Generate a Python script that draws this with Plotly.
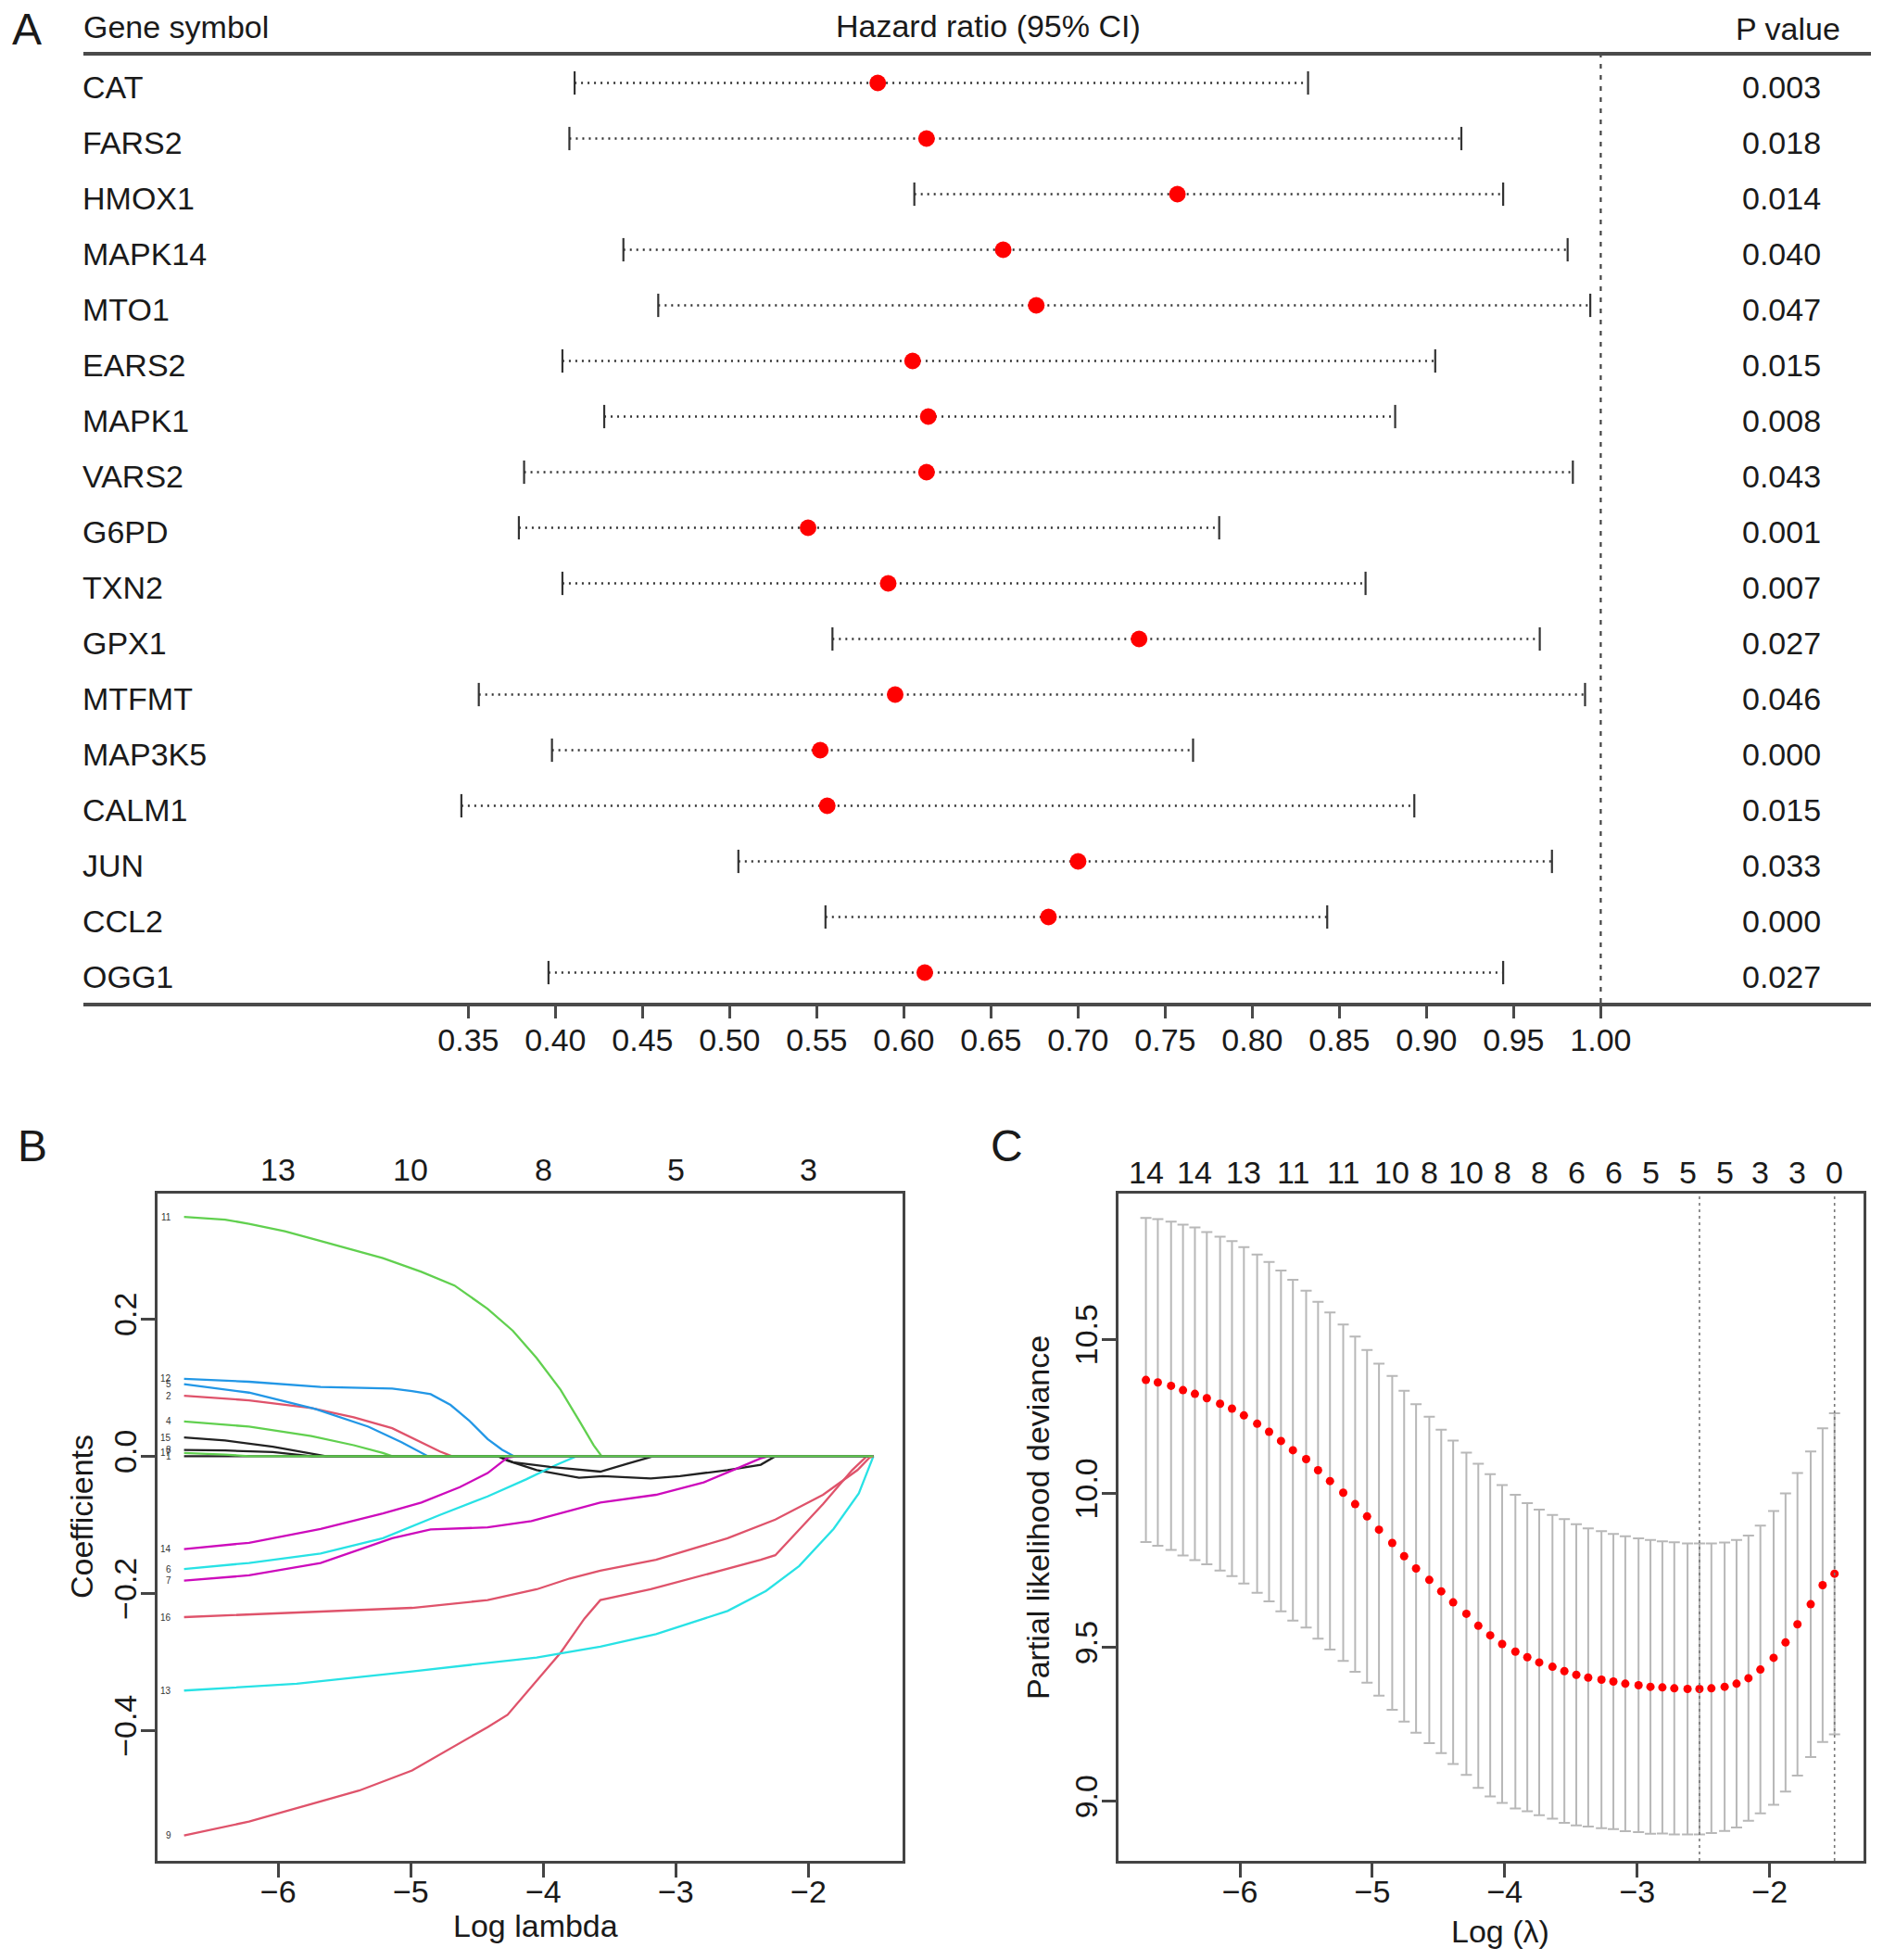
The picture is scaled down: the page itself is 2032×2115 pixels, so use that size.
import plotly.graph_objects as go

W, H = 2032, 2115
FONT = "Liberation Sans, Arial, Helvetica, sans-serif"
TXT = "#1a1a1a"
AX = "#444444"

# ---------------- Panel A: forest plot ----------------
genes = ["CAT", "FARS2", "HMOX1", "MAPK14", "MTO1", "EARS2", "MAPK1", "VARS2", "G6PD",
         "TXN2", "GPX1", "MTFMT", "MAP3K5", "CALM1", "JUN", "CCL2", "OGG1"]
hr = [0.585, 0.613, 0.757, 0.657, 0.676, 0.605, 0.614, 0.613, 0.545,
      0.591, 0.735, 0.595, 0.552, 0.556, 0.700, 0.683, 0.612]
ci_low = [0.411, 0.408, 0.606, 0.439, 0.459, 0.404, 0.428, 0.382, 0.379,
          0.404, 0.559, 0.356, 0.398, 0.346, 0.505, 0.555, 0.396]
ci_high = [0.832, 0.920, 0.944, 0.981, 0.994, 0.905, 0.882, 0.984, 0.781,
           0.865, 0.965, 0.991, 0.766, 0.893, 0.972, 0.843, 0.944]
p_values = ["0.003", "0.018", "0.014", "0.040", "0.047", "0.015", "0.008", "0.043", "0.001",
            "0.007", "0.027", "0.046", "0.000", "0.015", "0.033", "0.000", "0.027"]
hr_ticks = [0.35, 0.40, 0.45, 0.50, 0.55, 0.60, 0.65, 0.70, 0.75, 0.80, 0.85, 0.90, 0.95, 1.00]
hr_ref = 1.0

# ---------------- Panel B: lasso coefficient paths ----------------
b_x_v1 = [-6.71, -4.34, -4.27, -4.05, -3.73, -3.55, -3.19, -2.97, -2.61, -2.36, -2.25, -1.51]
b_y_v1 = [0, 0, -0.0065, -0.0201, -0.0314, -0.0291, -0.0323, -0.0291, -0.0201, -0.0124, 0, 0]
b_x_v2 = [-6.71, -6.22, -5.75, -5.43, -5.14, -4.92, -4.78, -4.69, -1.51]
b_y_v2 = [0.0883, 0.0816, 0.0703, 0.0567, 0.0409, 0.0206, 0.007, 0, 0]
b_x_v4 = [-6.71, -6.22, -5.75, -5.43, -5.21, -5.14, -1.51]
b_y_v4 = [0.0508, 0.0432, 0.0296, 0.0161, 0.0048, 0, 0]
b_x_v5 = [-6.71, -6.22, -5.72, -5.32, -5.07, -4.87, -1.51]
b_y_v5 = [0.105, 0.0928, 0.0689, 0.0432, 0.0206, 0, 0]
b_x_v6 = [-6.71, -6.22, -5.68, -5.21, -4.78, -4.42, -4.13, -3.91, -3.75, -1.51]
b_y_v6 = [-0.1646, -0.1556, -0.142, -0.1195, -0.0856, -0.0585, -0.0337, -0.0133, 0, 0]
b_x_v7 = [-6.71, -6.22, -5.68, -5.14, -4.85, -4.42, -4.09, -3.84, -3.57, -3.15, -2.79, -2.54, -2.36, -2.30, -1.51]
b_y_v7 = [-0.1814, -0.1737, -0.1556, -0.1195, -0.1068, -0.1037, -0.0946, -0.0811, -0.0675, -0.0562,
          -0.0382, -0.0178, -0.003, 0, 0]
b_x_v8 = [-6.71, -6.40, -6.04, -5.75, -4.34, -4.23, -3.95, -3.57, -3.37, -3.17, -1.51]
b_y_v8 = [0.0093, 0.0084, 0.006, 0, 0, -0.0088, -0.0156, -0.0224, -0.011, 0, 0]
b_x_v9 = [-6.71, -6.22, -5.68, -5.39, -4.99, -4.70, -4.42, -4.27, -4.05, -3.87, -3.69, -3.57, -3.19,
          -2.79, -2.54, -2.36, -2.25, -1.89, -1.67, -1.56, -1.51]
b_y_v9 = [-0.5531, -0.5327, -0.5034, -0.4876, -0.4582, -0.4266, -0.395, -0.377, -0.3273, -0.2866,
          -0.2369, -0.2098, -0.194, -0.1737, -0.1601, -0.151, -0.1443, -0.0698, -0.0201, 0, 0]
b_x_v11 = [-6.71, -6.40, -6.22, -5.95, -5.68, -5.45, -5.21, -4.92, -4.67, -4.42, -4.23, -4.05, -3.87,
           -3.73, -3.62, -3.56, -1.51]
b_y_v11 = [0.349, 0.345, 0.339, 0.328, 0.314, 0.302, 0.289, 0.269, 0.249, 0.215, 0.183, 0.143, 0.097,
           0.052, 0.016, 0, 0]
b_x_v12 = [-6.71, -6.22, -5.68, -5.21, -5.14, -4.99, -4.85, -4.70, -4.56, -4.42, -4.31, -4.22, -1.51]
b_y_v12 = [0.113, 0.1087, 0.101, 0.0983, 0.0988, 0.0951, 0.0906, 0.0748, 0.0522, 0.0251, 0.0093, 0, 0]
b_x_v13 = [-6.71, -5.86, -4.99, -4.05, -3.57, -3.15, -2.61, -2.32, -2.07, -1.81, -1.62, -1.51]
b_y_v13 = [-0.3417, -0.3318, -0.3137, -0.2934, -0.2776, -0.2595, -0.2256, -0.1963, -0.1601, -0.1059, -0.054, 0]
b_x_v14 = [-6.71, -6.22, -5.68, -5.21, -4.92, -4.63, -4.42, -4.27, -4.20, -1.51]
b_y_v14 = [-0.1353, -0.1262, -0.1059, -0.0833, -0.0675, -0.045, -0.0246, -0.002, 0, 0]
b_x_v15 = [-6.71, -6.40, -6.04, -5.79, -5.64, -1.51]
b_y_v15 = [0.0274, 0.0229, 0.0138, 0.0048, 0, 0]
b_x_v16 = [-6.71, -5.86, -4.99, -4.42, -4.05, -3.80, -3.57, -3.15, -2.61, -2.25, -1.89, -1.63, -1.54, -1.51]
b_y_v16 = [-0.2346, -0.2279, -0.2211, -0.2098, -0.194, -0.1782, -0.1669, -0.151, -0.1195, -0.0924,
           -0.0562, -0.0201, -0.002, 0]
b_x_v17 = [-6.71, -6.40, -6.22, -1.51]
b_y_v17 = [0.0047, 0.0025, 0, 0]

b_top_ticks = [-6, -5, -4, -3, -2]
b_top_labels = ["13", "10", "8", "5", "3"]

# ---------------- Panel C: cross-validation curve ----------------
log_lambda = [-6.71, -6.62, -6.52, -6.43, -6.34, -6.25, -6.15, -6.06, -5.97, -5.87,
              -5.78, -5.69, -5.60, -5.50, -5.41, -5.32, -5.22, -5.13, -5.04, -4.95,
              -4.85, -4.76, -4.67, -4.57, -4.48, -4.39, -4.29, -4.20, -4.11, -4.02,
              -3.92, -3.83, -3.74, -3.64, -3.55, -3.46, -3.37, -3.27, -3.18, -3.09,
              -2.99, -2.90, -2.81, -2.72, -2.62, -2.53, -2.44, -2.34, -2.25, -2.16,
              -2.07, -1.97, -1.88, -1.79, -1.69, -1.60, -1.51]
cv_dev = [10.368, 10.360, 10.349, 10.335, 10.323, 10.309, 10.291, 10.275, 10.253, 10.226,
          10.200, 10.170, 10.140, 10.111, 10.075, 10.040, 10.002, 9.965, 9.925, 9.882,
          9.839, 9.796, 9.756, 9.719, 9.682, 9.646, 9.609, 9.570, 9.539, 9.511,
          9.486, 9.468, 9.451, 9.437, 9.423, 9.411, 9.402, 9.395, 9.389, 9.382,
          9.377, 9.372, 9.370, 9.367, 9.365, 9.365, 9.367, 9.372, 9.382, 9.400,
          9.428, 9.466, 9.516, 9.575, 9.640, 9.702, 9.739]
cv_se = [0.526, 0.530, 0.533, 0.537, 0.540, 0.539, 0.542, 0.544, 0.546, 0.549,
         0.551, 0.553, 0.553, 0.547, 0.547, 0.547, 0.546, 0.544, 0.540, 0.539,
         0.542, 0.537, 0.533, 0.530, 0.525, 0.525, 0.523, 0.526, 0.523, 0.516,
         0.509, 0.500, 0.496, 0.493, 0.493, 0.489, 0.484, 0.482, 0.479, 0.479,
         0.477, 0.477, 0.474, 0.474, 0.472, 0.472, 0.470, 0.468, 0.467, 0.463,
         0.467, 0.477, 0.484, 0.491, 0.496, 0.509, 0.521]
c_top_ticks = [-6.71, -6.34, -5.97, -5.60, -5.22, -4.85, -4.57, -4.29, -4.02, -3.74,
               -3.46, -3.18, -2.90, -2.62, -2.34, -2.07, -1.79, -1.51]
c_top_labels = ["14", "14", "13", "11", "11", "10", "8", "10", "8", "8",
                "6", "6", "5", "5", "5", "3", "3", "0"]
lambda_min_log = -2.53
lambda_1se_log = -1.51

# ---------------- helpers ----------------
def fx(X):
    return X / W


def fy(Y):
    return 1 - Y / H


BLACK, RED, GREEN, BLUE, CYAN, MAGENTA = "#222222", "#DF536B", "#61D04F", "#2297E6", "#28E2E5", "#CD0BBC"

fig = go.Figure()

# ---- Panel A traces ----
rows = list(range(len(genes)))
ci_x, ci_y = [], []
for i in rows:
    ci_x += [ci_low[i], ci_high[i], None]
    ci_y += [i, i, None]
fig.add_trace(go.Scatter(x=ci_x, y=ci_y, mode="lines", xaxis="x", yaxis="y",
                         line=dict(color="#333333", width=2.5, dash="2px,5px"), hoverinfo="skip"))
fig.add_trace(go.Scatter(x=ci_low + ci_high, y=rows + rows, mode="markers", xaxis="x", yaxis="y",
                         marker=dict(symbol="line-ns", size=18, line=dict(color="#333333", width=2.2)),
                         hoverinfo="skip"))
fig.add_trace(go.Scatter(x=hr, y=rows, mode="markers", xaxis="x", yaxis="y",
                         marker=dict(color="#FF0000", size=18, line=dict(width=0))))

# ---- Panel B traces ----
b_lines = [
    ("1", BLACK, b_x_v1, b_y_v1),
    ("2", RED, b_x_v2, b_y_v2),
    ("4", GREEN, b_x_v4, b_y_v4),
    ("5", BLUE, b_x_v5, b_y_v5),
    ("6", CYAN, b_x_v6, b_y_v6),
    ("7", MAGENTA, b_x_v7, b_y_v7),
    ("8", BLACK, b_x_v8, b_y_v8),
    ("9", RED, b_x_v9, b_y_v9),
    ("11", GREEN, b_x_v11, b_y_v11),
    ("12", BLUE, b_x_v12, b_y_v12),
    ("13", CYAN, b_x_v13, b_y_v13),
    ("14", MAGENTA, b_x_v14, b_y_v14),
    ("15", BLACK, b_x_v15, b_y_v15),
    ("16", RED, b_x_v16, b_y_v16),
    ("17", GREEN, b_x_v17, b_y_v17),
]
for lab, col, xs, ys in b_lines:
    fig.add_trace(go.Scatter(x=xs, y=ys, mode="lines", xaxis="x2", yaxis="y2",
                             line=dict(color=col, width=2.3), hoverinfo="skip"))

# ---- Panel C traces ----
fig.add_trace(go.Scatter(x=log_lambda, y=cv_dev, mode="markers", xaxis="x3", yaxis="y3",
                         marker=dict(color="#FF0000", size=9, line=dict(width=0)),
                         error_y=dict(type="data", array=cv_se, visible=True, color="#B8B8B8",
                                      thickness=2, width=6)))

# ---------------- layout ----------------
tickfont = dict(family=FONT, size=34, color=TXT)
A_y0, A_y1 = 1082, 60
A_x0, A_x1 = 90, 2019
hr_px0, hr_ppu = 505.4, 1880.0
A_range = [0.35 - (hr_px0 - A_x0) / hr_ppu, 0.35 + (A_x1 - hr_px0) / hr_ppu]
row_px0, row_step = 89.5, 60.0
A_yrange = [(A_y0 - row_px0) / row_step, (A_y1 - row_px0) / row_step]

B_box = (170, 974, 1288, 2008)
C_box = (1207, 2011, 1288, 2008)

box_axis = dict(showline=True, mirror=True, linewidth=2.5, linecolor=AX, ticks="outside",
                ticklen=15, tickwidth=2.5, tickcolor=AX, showgrid=False, zeroline=False,
                tickfont=tickfont)

fig.update_layout(
    width=W, height=H, margin=dict(l=0, r=0, t=0, b=0),
    paper_bgcolor="white", plot_bgcolor="white", showlegend=False,
    font=dict(family=FONT, color=TXT),
    xaxis=dict(domain=[fx(A_x0), fx(A_x1)], anchor="y", range=A_range,
               tickvals=hr_ticks, ticktext=[f"{v:.2f}" for v in hr_ticks],
               showline=True, mirror=True, linewidth=3.5, linecolor="#4a4a4a",
               ticks="outside", ticklen=13, tickwidth=2.5, tickcolor="#4a4a4a",
               ticklabelstandoff=-6,
               showgrid=False, zeroline=False, tickfont=dict(family=FONT, size=34, color=TXT)),
    yaxis=dict(domain=[fy(A_y0), fy(A_y1)], anchor="x", range=A_yrange, visible=False),
    xaxis2=dict(domain=[fx(B_box[0]), fx(B_box[1])], anchor="y2", range=[-6.91, -1.29],
                tickvals=[-6, -5, -4, -3, -2], ticktext=["\u22126", "\u22125", "\u22124", "\u22123", "\u22122"],
                ticklabelstandoff=-14, **box_axis),
    yaxis2=dict(domain=[fy(B_box[3]), fy(B_box[2])], anchor="x2", range=[-0.59, 0.383],
                tickvals=[-0.4, -0.2, 0.0, 0.2], ticktext=["\u22120.4", "\u22120.2", "0.0", "0.2"],
                tickangle=-90, ticklabelstandoff=-8, **box_axis),
    xaxis3=dict(domain=[fx(C_box[0]), fx(C_box[1])], anchor="y3", range=[-6.917, -1.291],
                tickvals=[-6, -5, -4, -3, -2], ticktext=["\u22126", "\u22125", "\u22124", "\u22123", "\u22122"],
                ticklabelstandoff=-14, **box_axis),
    yaxis3=dict(domain=[fy(C_box[3]), fy(C_box[2])], anchor="x3", range=[8.807, 10.973],
                tickvals=[9.0, 9.5, 10.0, 10.5], ticktext=["9.0", "9.5", "10.0", "10.5"],
                tickangle=-90, ticklabelstandoff=-8, **box_axis),
)

shapes = [
    dict(type="line", xref="x", yref="paper", x0=hr_ref, x1=hr_ref, y0=fy(A_y0), y1=fy(A_y1),
         line=dict(color="#444444", width=2.2, dash="5px,7px")),
    dict(type="line", xref="x3", yref="y3 domain", x0=lambda_min_log, x1=lambda_min_log, y0=0, y1=1,
         line=dict(color="#777777", width=1.6, dash="3px,4px")),
    dict(type="line", xref="x3", yref="y3 domain", x0=lambda_1se_log, x1=lambda_1se_log, y0=0, y1=1,
         line=dict(color="#777777", width=1.6, dash="3px,4px")),
]
fig.update_layout(shapes=shapes)

ann = []


def text(x, y, s, size=34, xanchor="center", yanchor="middle", angle=0, xref="paper", yref="paper",
         xshift=0, yshift=0, color=TXT):
    ann.append(dict(x=x, y=y, xref=xref, yref=yref, text=s, showarrow=False, xanchor=xanchor,
                    yanchor=yanchor, textangle=angle, xshift=xshift, yshift=yshift,
                    font=dict(family=FONT, size=size, color=color)))


# panel letters
text(fx(29), fy(31), "A", size=48)
text(fx(35), fy(1236), "B", size=48)
text(fx(1086), fy(1236), "C", size=48)

# panel A headers
text(fx(88), fy(29), "Gene symbol", xanchor="left")
text(fx(1066), fy(28), "Hazard ratio (95% CI)")
text(fx(1929), fy(31), "P value")
for i in rows:
    text(fx(87), i, genes[i], xanchor="left", yref="y", yshift=-4)
    text(fx(1922), i, p_values[i], yref="y", yshift=-4)

# panel B labels
for lab, col, xs, ys in b_lines:
    text(xs[0], ys[0], lab, size=10, xanchor="right", xref="x2", yref="y2", xshift=-12, color="#333333")
for v, lab in zip(b_top_ticks, b_top_labels):
    text(v, fy(1262), lab, xref="x2")
text(fx(88), fy(1637), "Coefficients", angle=-90)
text(fx(578), fy(2078), "Log lambda")

# panel C labels
for v, lab in zip(c_top_ticks, c_top_labels):
    text(v, fy(1265), lab, xref="x3")
text(fx(1120), fy(1638), "Partial likelihood deviance", angle=-90)
text(fx(1619), fy(2084), "Log (\u03bb)")

fig.update_layout(annotations=ann)
fig.write_html("out.html", config={"displayModeBar": False},
               post_script="document.body.style.margin='0px';")
